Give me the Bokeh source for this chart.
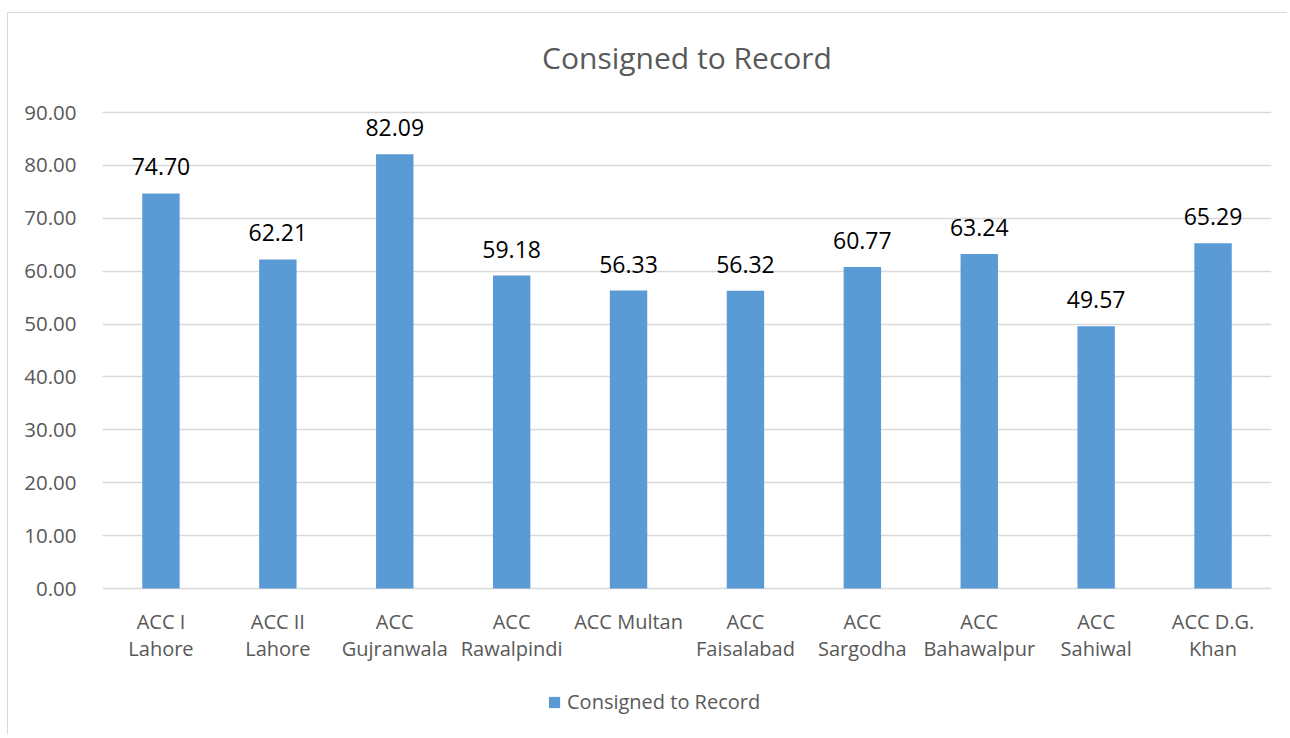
from bokeh.plotting import figure
from bokeh.models import ColumnDataSource, LabelSet, Legend, LegendItem, Range1d, FixedTicker, Label, NumeralTickFormatter
from bokeh.core.properties import value
from bokeh.embed import file_html
from bokeh.resources import INLINE

categories = ["ACC I\nLahore", "ACC II\nLahore", "ACC\nGujranwala", "ACC\nRawalpindi", "ACC Multan",
              "ACC\nFaisalabad", "ACC\nSargodha", "ACC\nBahawalpur", "ACC\nSahiwal", "ACC D.G.\nKhan"]
values = [74.70, 62.21, 82.09, 59.18, 56.33, 56.32, 60.77, 63.24, 49.57, 65.29]
labels = ["74.70", "62.21", "82.09", "59.18", "56.33", "56.32", "60.77", "63.24", "49.57", "65.29"]
y_ticks = [0, 10, 20, 30, 40, 50, 60, 70, 80, 90]
series_name = "Consigned to Record"
title_text = "Consigned to Record"

FONT = "Open Sans"
GRAY = "#595959"

# pixel geometry of the canvas (used only to set ranges / offsets)
W, H = 1280, 722
FRAME_L, FRAME_R = 94, 17
Y90_PX, Y0_PX = 99, 575          # canvas y of the 90 and 0 gridlines
k = (Y0_PX - Y90_PX) / 90.0      # px per unit
y_top = 90 + Y90_PX / k
y_bot = -(H - Y0_PX) / k

source = ColumnDataSource(data=dict(cat=categories, val=values, lab=labels, zero=[0] * len(values)))

p = figure(x_range=categories, y_range=Range1d(y_bot, y_top), width=W, height=H,
           output_backend="svg", toolbar_location=None,
           min_border_left=FRAME_L, min_border_right=FRAME_R, min_border_top=0, min_border_bottom=0)

r = p.vbar(x="cat", top="val", width=0.32, source=source, fill_color="#5B9BD5", line_color=None)

# data labels
p.add_layout(LabelSet(x="cat", y="val", text="lab", source=source, text_align="center",
                      text_baseline="alphabetic", y_offset=18, text_font=value(FONT),
                      text_font_size="23px", text_color="#000000"))

# category labels under the baseline
p.text(x="cat", y="zero", text="cat", source=source, text_align="center", text_baseline="top",
       y_offset=19, text_font=value(FONT), text_font_size="20px", text_color=GRAY,
       text_line_height=1.03)

# title
p.add_layout(Label(x=len(categories) / 2.0, y=90 + 55 / k, text=title_text, text_align="center",
                   text_baseline="middle", text_font=FONT, text_font_size="30px", text_color=GRAY))

p.outline_line_color = None
p.background_fill_color = "white"
p.border_fill_color = "white"

p.xgrid.grid_line_color = None
p.ygrid.grid_line_color = "#D9D9D9"
p.ygrid.grid_line_width = 1.3
p.xaxis.visible = False

p.yaxis.ticker = FixedTicker(ticks=y_ticks)
p.yaxis.formatter = NumeralTickFormatter(format="0.00")
p.yaxis.axis_line_color = None
p.yaxis.major_tick_line_color = None
p.yaxis.minor_tick_line_color = None
p.yaxis.major_label_text_font = FONT
p.yaxis.major_label_text_font_size = "20.5px"
p.yaxis.major_label_text_color = GRAY
p.yaxis.major_label_standoff = 20

legend = Legend(items=[LegendItem(label=series_name, renderers=[r])], location=(445, 20),
                orientation="horizontal", label_text_font=FONT, label_text_font_size="20px",
                label_text_color=GRAY, glyph_width=14, glyph_height=14, border_line_color=None,
                background_fill_alpha=0, margin=0, padding=0, label_standoff=6)
p.add_layout(legend, "center")

p.styles = {"border-top": "1px solid #D9D9D9", "border-left": "1px solid #D9D9D9",
            "margin-top": "12px", "margin-left": "7px"}

open("out.html", "w").write(file_html(p, INLINE))
